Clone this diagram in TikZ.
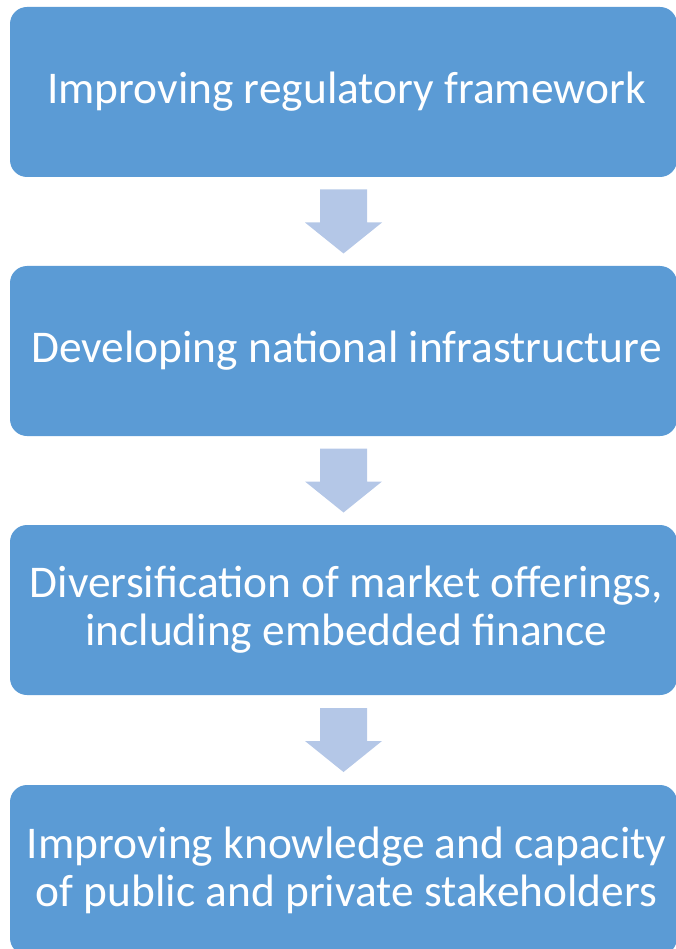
\documentclass[tikz,border=0pt]{standalone}
\usepackage{fontspec}
\setmainfont{Carlito}
\usetikzlibrary{calc}
\definecolor{stepblue}{HTML}{5B9BD5}
\definecolor{arrowblue}{HTML}{B4C7E7}
\begin{document}
\begin{tikzpicture}[x=1pt,y=-1pt,
  stepbox/.style={fill=stepblue, draw=none, rounded corners=17pt,
    minimum width=667pt, minimum height=170pt, inner sep=0pt,
    text=white, align=center, font=\fontsize{45.4}{48}\selectfont},
  downarrow/.style={fill=arrowblue, draw=none}]
\useasboundingbox (0,0) rectangle (676,949);
\clip (0,0) rectangle (676,949);
\node[stepbox] (s1) at (343.5,92) {\hspace*{6pt}Improving regulatory framework};
\node[stepbox] (s2) at (343.5,351) {\hspace*{6pt}Developing national infrastructure};
\node[stepbox] (s3) at (343.5,610) {\hspace*{6pt}Diversification of market offerings,\\\hspace*{6pt}including embedded finance};
\node[stepbox] (s4) at (343.5,870) {\hspace*{6pt}Improving knowledge and capacity\\\hspace*{6pt}of public and private stakeholders};
% block arrows between consecutive steps
\foreach \a/\b [count=\i] in {s1/s2,s2/s3,s3/s4}{
  \coordinate (m\i) at ($(\a.south)!0.5!(\b.north)$);
  \fill[downarrow] ([shift={(-23.5,-32)}]m\i) -- ([shift={(23.5,-32)}]m\i)
    -- ([shift={(23.5,1)}]m\i) -- ([shift={(38.5,1)}]m\i)
    -- ([shift={(0,32)}]m\i) -- ([shift={(-38.5,1)}]m\i)
    -- ([shift={(-23.5,1)}]m\i) -- cycle;
}
\end{tikzpicture}
\end{document}
